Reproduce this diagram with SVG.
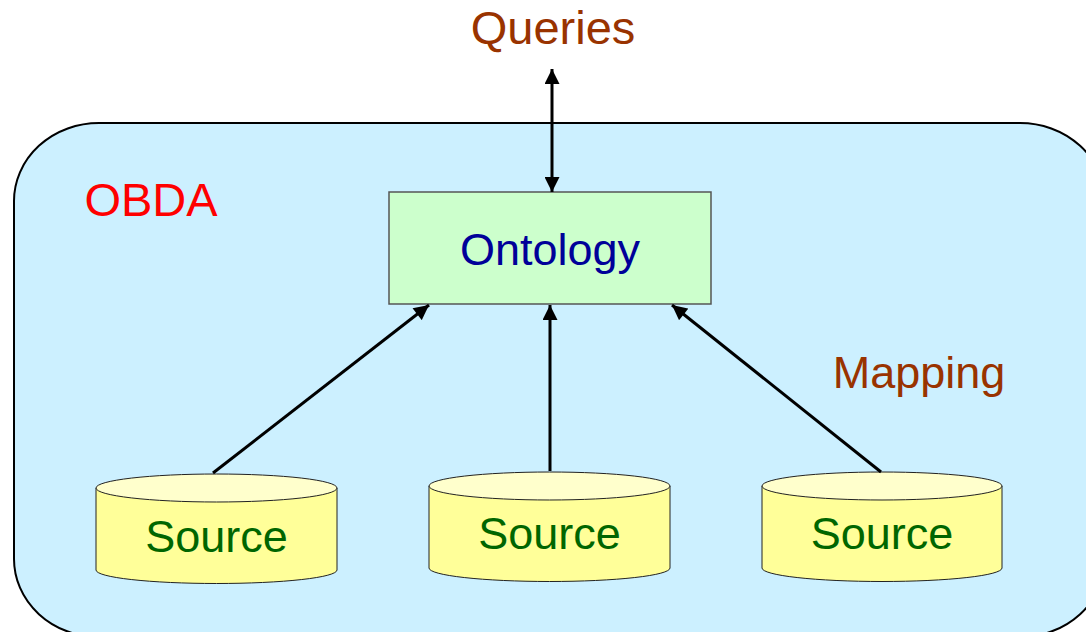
<svg xmlns="http://www.w3.org/2000/svg" width="1086" height="632" viewBox="0 0 1086 632">
<defs>
<marker id="ah" viewBox="0 0 10 10" refX="10" refY="5" markerWidth="5.3" markerHeight="5" orient="auto-start-reverse" markerUnits="strokeWidth">
<path d="M0,0 L10,5 L0,10 Z" fill="#000"/>
</marker>
<style>
text{font-family:"Liberation Sans",Arial,sans-serif;font-size:45px;text-anchor:middle}
.big{font-size:47px}
.conn{stroke:#000;stroke-width:3;fill:none}
.side{fill:#FFFF99;stroke:#222;stroke-width:1}
.top{fill:#FFFFCC;stroke:#222;stroke-width:1}
.src{fill:#006600}
</style>
</defs>
<g id="obda">
<rect x="14" y="123" width="1091" height="514" rx="85" ry="78" fill="#CCF0FF" stroke="#000" stroke-width="2"/>
<text class="big" x="151" y="216" fill="#FF0000">OBDA</text>
</g>
<text id="queries" class="big" x="553" y="44" fill="#993300">Queries</text>
<text id="mapping" x="919" y="388" fill="#993300">Mapping</text>
<g id="ontology">
<rect x="389" y="192" width="322" height="112" fill="#CCFFCC" stroke="#555" stroke-width="1.5"/>
<text x="550" y="265" fill="#000099">Ontology</text>
</g>
<g id="source1">
<path class="side" d="M96,488 L96,570 A120.5,13.5 0 0 0 337,570 L337,488 Z"/>
<ellipse class="top" cx="216.5" cy="488" rx="120.5" ry="14"/>
<text class="src" x="216.5" y="552">Source</text>
</g>
<g id="source2">
<path class="side" d="M429,486 L429,568 A120.5,13.5 0 0 0 670,568 L670,486 Z"/>
<ellipse class="top" cx="549.5" cy="486" rx="120.5" ry="14"/>
<text class="src" x="549.5" y="549">Source</text>
</g>
<g id="source3">
<path class="side" d="M762,486 L762,568 A120,13.5 0 0 0 1002,568 L1002,486 Z"/>
<ellipse class="top" cx="882" cy="486" rx="120" ry="14"/>
<text class="src" x="882" y="549">Source</text>
</g>
<g id="connectors">
<line class="conn" x1="552" y1="69" x2="552" y2="192" marker-start="url(#ah)" marker-end="url(#ah)"/>
<line class="conn" x1="213" y1="473" x2="429" y2="305" marker-end="url(#ah)"/>
<line class="conn" x1="550" y1="471" x2="550" y2="305" marker-end="url(#ah)"/>
<line class="conn" x1="881" y1="472" x2="672" y2="305" marker-end="url(#ah)"/>
</g>
</svg>
